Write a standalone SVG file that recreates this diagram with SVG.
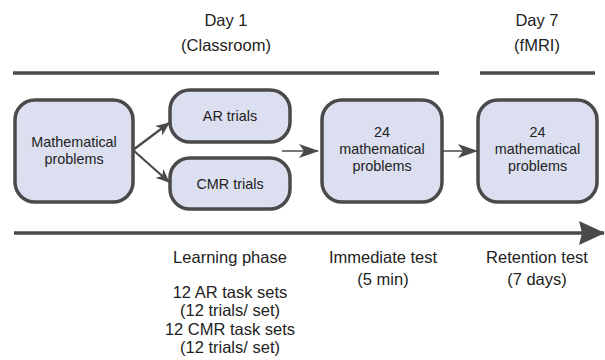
<svg xmlns="http://www.w3.org/2000/svg" width="605" height="360" viewBox="0 0 605 360">
<defs>
<style>
.lbl{font-family:"Liberation Sans",Arial,sans-serif;font-size:16.5px;fill:#222;text-anchor:middle}
.nt{font-family:"Liberation Sans",Arial,sans-serif;font-size:14.4px;fill:#222;text-anchor:middle}
.box{fill:#dcdff0;stroke:#4a4a4a;stroke-width:3.5}
.bar{stroke:#4a4a4a;stroke-width:3.5;fill:none}
.con{stroke:#4a4a4a;fill:none}
</style>
<marker id="ah" markerUnits="userSpaceOnUse" viewBox="0 0 20 14" markerWidth="20" markerHeight="14" refX="19" refY="7" orient="auto">
<path d="M0,0 L20,7 L0,14 L5,7 z" fill="#4a4a4a"/>
</marker>
<marker id="ahs" markerUnits="userSpaceOnUse" viewBox="0 0 14 12" markerWidth="14" markerHeight="12" refX="13" refY="6" orient="auto">
<path d="M0,0 L14,6 L0,12 L4,6 z" fill="#4a4a4a"/>
</marker>
<marker id="big" markerUnits="userSpaceOnUse" viewBox="0 0 26 24" markerWidth="26" markerHeight="24" refX="25" refY="12" orient="auto">
<path d="M0,0 L26,12 L0,24 L3,12 z" fill="#4a4a4a"/>
</marker>
</defs>
<rect width="605" height="360" fill="#fff"/>

<g id="headers">
<text class="lbl" x="226" y="26">Day 1</text>
<text class="lbl" x="226" y="51">(Classroom)</text>
<text class="lbl" x="537" y="26">Day 7</text>
<text class="lbl" x="537" y="51">(fMRI)</text>
<line class="bar" x1="13" y1="73" x2="439" y2="73"/>
<line class="bar" x1="480" y1="73" x2="595" y2="73"/>
</g>

<g id="connectors">
<line class="con" stroke-width="2.2" x1="133" y1="150" x2="169" y2="123" marker-end="url(#ahs)"/>
<line class="con" stroke-width="2.2" x1="133" y1="150" x2="169" y2="182" marker-end="url(#ahs)"/>
<line class="con" stroke-width="1.6" x1="282" y1="151" x2="318" y2="151" marker-end="url(#ah)"/>
<line class="con" stroke-width="1.6" x1="442" y1="151" x2="477" y2="151" marker-end="url(#ah)"/>
<line class="con" stroke-width="3.5" x1="14" y1="233" x2="604" y2="233" marker-end="url(#big)"/>
</g>

<g id="math">
<rect class="box" x="15" y="100" width="118" height="102" rx="20"/>
<text class="nt" x="74" y="147">Mathematical</text>
<text class="nt" x="74" y="164">problems</text>
</g>
<g id="ar">
<rect class="box" x="170" y="90" width="120" height="52" rx="20"/>
<text class="nt" x="230" y="121">AR trials</text>
</g>
<g id="cmr">
<rect class="box" x="170" y="158" width="120" height="51" rx="20"/>
<text class="nt" x="230" y="189">CMR trials</text>
</g>
<g id="immediate">
<rect class="box" x="322" y="100" width="120" height="102" rx="20"/>
<text class="nt" x="382" y="137">24</text>
<text class="nt" x="382" y="154">mathematical</text>
<text class="nt" x="382" y="171">problems</text>
</g>
<g id="retention">
<rect class="box" x="478" y="100" width="119" height="102" rx="20"/>
<text class="nt" x="537.5" y="137">24</text>
<text class="nt" x="537.5" y="154">mathematical</text>
<text class="nt" x="537.5" y="171">problems</text>
</g>

<g id="labels">
<text class="lbl" x="230" y="263">Learning phase</text>
<text class="lbl" x="230" y="298">12 AR task sets</text>
<text class="lbl" x="230" y="316">(12 trials/ set)</text>
<text class="lbl" x="230" y="335">12 CMR task sets</text>
<text class="lbl" x="230" y="353">(12 trials/ set)</text>
<text class="lbl" x="383" y="263">Immediate test</text>
<text class="lbl" x="383" y="285">(5 min)</text>
<text class="lbl" x="537" y="263">Retention test</text>
<text class="lbl" x="537" y="285">(7 days)</text>
</g>
</svg>
